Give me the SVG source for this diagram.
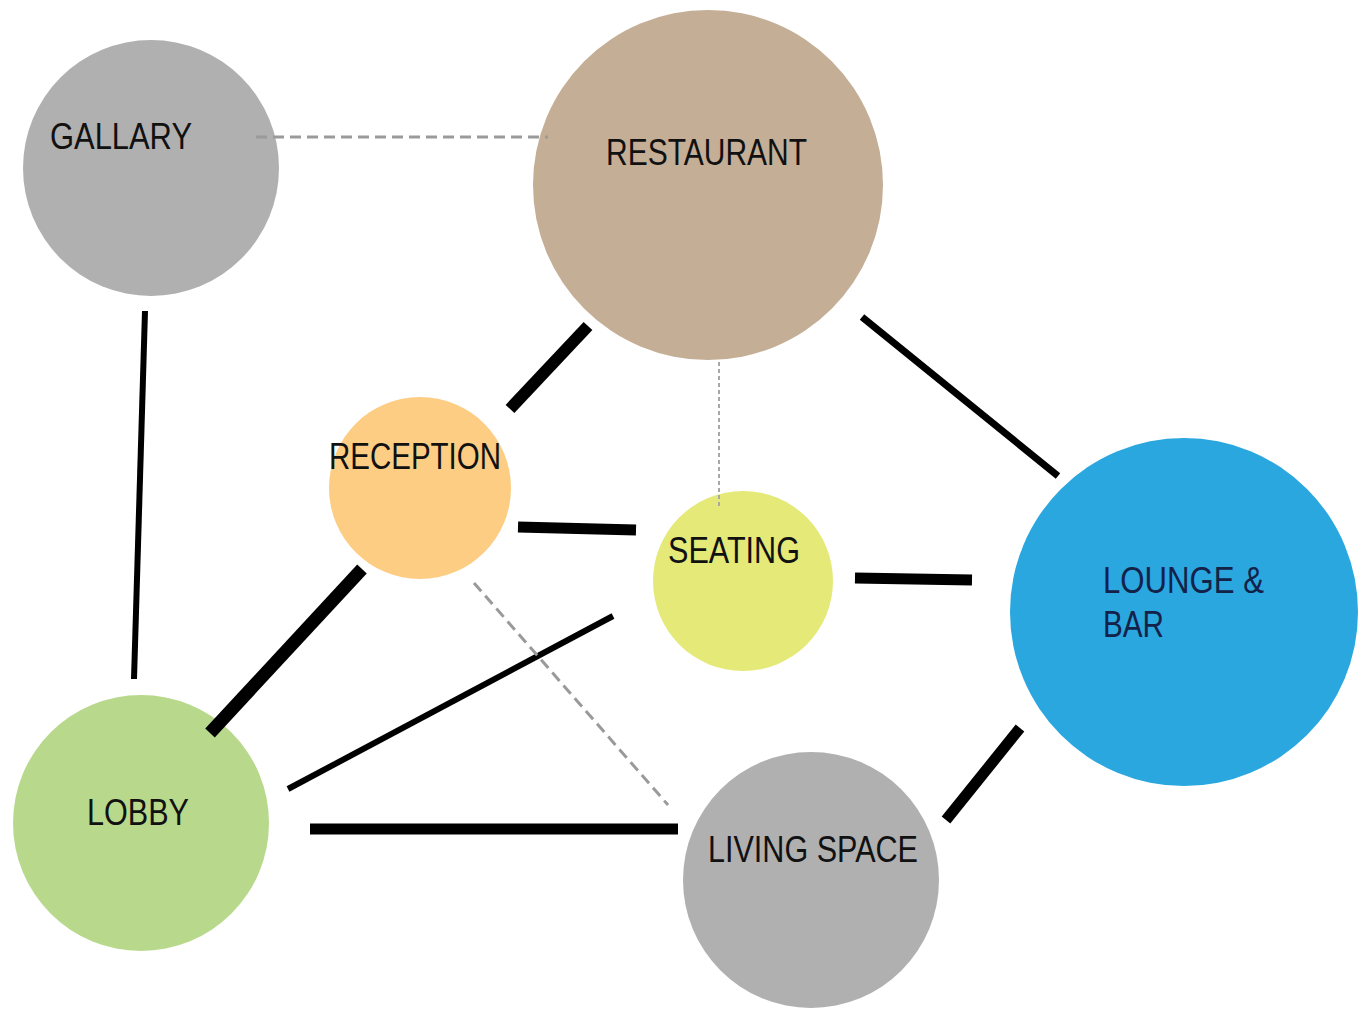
<svg xmlns="http://www.w3.org/2000/svg" width="1368" height="1011" viewBox="0 0 1368 1011">
<style>
.lbl{font-family:"Liberation Sans",Arial,sans-serif;font-size:36px;fill:#111}
.solid{stroke:#000;fill:none}
.dash{stroke:#9a9a9a;fill:none;stroke-width:3;stroke-dasharray:11 6}
.dot{stroke:#a8a8a8;fill:none;stroke-width:2;stroke-dasharray:4 3}
</style>
<rect width="1368" height="1011" fill="#fff"/>
<g id="nodes-bg">
<g id="gallary"><circle cx="151" cy="168" r="128" fill="#b0b0b0"/><text class="lbl" x="50" y="149" textLength="142" lengthAdjust="spacingAndGlyphs">GALLARY</text></g>
<g id="restaurant"><circle cx="708" cy="185" r="175" fill="#c4ae96"/><text class="lbl" x="606" y="165" textLength="201" lengthAdjust="spacingAndGlyphs">RESTAURANT</text></g>
<g id="reception"><circle cx="420" cy="488" r="91" fill="#fccd83"/><text class="lbl" x="329" y="469" textLength="172" lengthAdjust="spacingAndGlyphs">RECEPTION</text></g>
<g id="seating"><circle cx="743" cy="581" r="90" fill="#e4e978"/><text class="lbl" x="668" y="563" textLength="132" lengthAdjust="spacingAndGlyphs">SEATING</text></g>
<g id="lounge"><circle cx="1184" cy="612" r="174" fill="#2aa7df"/><text class="lbl" x="1103" y="593" textLength="161" lengthAdjust="spacingAndGlyphs" style="fill:#14224a">LOUNGE &amp;</text><text class="lbl" x="1103" y="637" textLength="61" lengthAdjust="spacingAndGlyphs" style="fill:#14224a">BAR</text></g>
<g id="lobby"><circle cx="141" cy="823" r="128" fill="#b8d98b"/><text class="lbl" x="87" y="825" textLength="102" lengthAdjust="spacingAndGlyphs">LOBBY</text></g>
<g id="living"><circle cx="811" cy="880" r="128" fill="#b0b0b0"/><text class="lbl" x="708" y="862" textLength="210" lengthAdjust="spacingAndGlyphs">LIVING SPACE</text></g>
</g>
<g id="connectors">
<line class="dash" x1="256" y1="137" x2="548" y2="137"/>
<line class="solid" x1="145" y1="311" x2="134" y2="679" stroke-width="6"/>
<line class="solid" x1="588" y1="326" x2="510" y2="409" stroke-width="12"/>
<line class="dot" x1="719" y1="362" x2="719" y2="508"/>
<line class="solid" x1="862" y1="317" x2="1058" y2="476" stroke-width="7"/>
<line class="solid" x1="518" y1="527" x2="636" y2="530" stroke-width="11"/>
<line class="solid" x1="855" y1="578" x2="972" y2="580" stroke-width="11"/>
<line class="solid" x1="362" y1="569" x2="210" y2="733" stroke-width="13"/>
<line class="solid" x1="613" y1="616" x2="288" y2="789" stroke-width="6"/>
<line class="dash" x1="474" y1="583" x2="668" y2="805"/>
<line class="solid" x1="310" y1="829" x2="678" y2="829" stroke-width="11"/>
<line class="solid" x1="1020" y1="728" x2="946" y2="820" stroke-width="11"/>
</g>
</svg>
